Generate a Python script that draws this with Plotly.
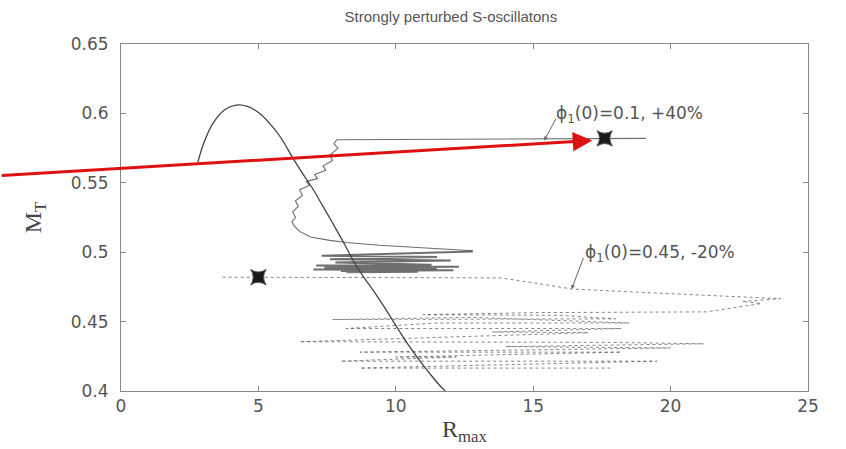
import plotly.graph_objects as go

# ---------------- data ----------------
# reference curve (parabola-like branch)
curve_x = [2.8, 3.0, 3.35, 3.8, 4.2, 4.6, 5.05, 5.4, 5.8, 6.25, 6.6, 7.0, 7.35, 7.7,
           8.1, 8.45, 8.8, 9.16, 9.53, 10.15, 10.5, 10.98, 11.3, 11.6, 11.8]
curve_y = [0.565, 0.578, 0.593, 0.603, 0.606, 0.605, 0.600, 0.593, 0.583, 0.568, 0.557,
           0.545, 0.533, 0.521, 0.507, 0.494, 0.483, 0.473, 0.462, 0.4425, 0.432, 0.419,
           0.411, 0.404, 0.400]

# +40% trajectory: horizontal jump, wiggle, then dense band
up_x = [19.1, 7.85, 7.75, 7.9, 7.6, 7.7, 7.35, 7.45, 7.05, 7.15, 6.75, 6.85, 6.5, 6.6,
        6.35, 6.45, 6.25, 6.35, 6.22, 6.3, 6.5, 6.9, 7.6, 8.2, 9.4, 11.0, 12.0, 12.8]
up_y = [0.582, 0.581, 0.578, 0.575, 0.570, 0.566, 0.562, 0.559, 0.556, 0.553, 0.551, 0.548,
        0.545, 0.541, 0.537, 0.533, 0.529, 0.525, 0.522, 0.519, 0.515, 0.511, 0.5085,
        0.507, 0.505, 0.503, 0.5015, 0.501]
band_x = [12.8, 7.3, 11.5, 7.6, 12.0, 7.8, 11.3, 7.1, 12.3, 7.4, 11.0, 7.0, 12.1, 8.0,
          10.8, 8.2, 11.5, 8.4, 10.2, 8.1, 10.5, 8.6, 9.8, 8.3]
band_y = [0.5005, 0.4975, 0.4965, 0.495, 0.494, 0.4925, 0.491, 0.4905, 0.4895, 0.489,
          0.488, 0.4875, 0.487, 0.4865, 0.486, 0.4855, 0.4885, 0.4895, 0.4875, 0.488,
          0.4868, 0.4872, 0.4862, 0.4858]

# -20% trajectory
low_x = [3.7, 9.0, 13.8, 15.0, 16.4, 19.0, 21.5, 22.8, 24.0, 22.6, 23.3, 21.3, 15.2, 11.0,
         16.0, 18.0, 7.7, 12.8, 13.5, 18.5, 11.5, 8.2, 18.2, 13.5, 17.0, 6.5, 18.0, 21.2,
         14.0, 20.0, 8.7, 18.2, 10.0, 12.2, 8.0, 19.5, 8.7, 17.8]
low_y = [0.482, 0.4818, 0.4815, 0.478, 0.4735, 0.471, 0.469, 0.4675, 0.4665, 0.4645, 0.463,
         0.457, 0.4565, 0.455, 0.4545, 0.452, 0.4515, 0.453, 0.4525, 0.449, 0.449, 0.445,
         0.445, 0.4425, 0.442, 0.4355, 0.435, 0.434, 0.432, 0.431, 0.428, 0.428, 0.4245,
         0.4245, 0.4215, 0.4215, 0.4165, 0.4165]

# initial (perturbed) configurations
star_x = [17.6, 5.0]
star_y = [0.582, 0.482]

# tick labels
x_ticks = [0, 5, 10, 15, 20, 25]
y_ticks = [0.4, 0.45, 0.5, 0.55, 0.6, 0.65]

# annotation texts
title_text = "Strongly perturbed S-oscillatons"
label_up = "ϕ<sub>1</sub>(0)=0.1, +40%"
label_low = "ϕ<sub>1</sub>(0)=0.45, -20%"

# ---------------- figure ----------------
fig = go.Figure()

fig.add_trace(go.Scatter(x=low_x, y=low_y, mode="lines",
                         line=dict(color="rgba(80,80,80,0.7)", width=1, dash="dot"),
                         showlegend=False, hoverinfo="skip"))
fig.add_trace(go.Scatter(x=band_x, y=band_y, mode="lines",
                         line=dict(color="rgba(15,15,15,0.6)", width=2),
                         showlegend=False, hoverinfo="skip"))
fig.add_trace(go.Scatter(x=up_x, y=up_y, mode="lines",
                         line=dict(color="rgba(60,60,60,0.75)", width=1.1),
                         showlegend=False, hoverinfo="skip"))
fig.add_trace(go.Scatter(x=curve_x, y=curve_y, mode="lines", line_shape="spline",
                         line=dict(color="#444", width=1.3),
                         showlegend=False, hoverinfo="skip"))
fig.add_trace(go.Scatter(x=star_x, y=star_y, mode="markers",
                         marker=dict(symbol="star-square", size=14, color="#1a1a1a",
                                     line=dict(color="#555", width=1)),
                         showlegend=False, hoverinfo="skip"))

gray = "#555"
ann_font = dict(family="DejaVu Sans", size=17, color=gray)

# label arrows
fig.add_annotation(x=15.4, y=0.5805, ax=15.85, ay=0.597, axref="x", ayref="y",
                   xref="x", yref="y", text="", showarrow=True, arrowhead=2,
                   arrowsize=0.8, arrowwidth=1, arrowcolor="#666")
fig.add_annotation(x=15.75, y=0.5995, xref="x", yref="y", text=label_up, showarrow=False,
                   xanchor="left", yanchor="middle", font=ann_font)
fig.add_annotation(x=16.4, y=0.4735, ax=16.85, ay=0.497, axref="x", ayref="y",
                   xref="x", yref="y", text="", showarrow=True, arrowhead=2,
                   arrowsize=0.8, arrowwidth=1, arrowcolor="#666")
fig.add_annotation(x=16.8, y=0.499, xref="x", yref="y", text=label_low, showarrow=False,
                   xanchor="left", yanchor="middle", font=ann_font)

# red overlay arrow
fig.add_annotation(x=17.15, y=0.5805, xref="x", yref="y", ax=-592, ay=35,
                   text="", showarrow=True, arrowhead=2, arrowsize=1.3,
                   arrowwidth=3, arrowcolor="#dd1111", standoff=0)

tick_font = dict(family="DejaVu Sans", size=17, color=gray)

fig.update_layout(
    width=846, height=449,
    margin=dict(l=121, r=38, t=44, b=58),
    plot_bgcolor="white", paper_bgcolor="white",
    title=dict(text=title_text, x=0.533, xanchor="center", y=0.962, yanchor="middle",
               font=dict(family="Liberation Sans, Arial", size=15, color=gray)),
    xaxis=dict(range=[0, 25], tickvals=x_ticks, ticks="inside", ticklen=5,
               tickcolor="#888", showline=True, linecolor="#888", linewidth=1,
               mirror="ticks", showgrid=False, zeroline=False,
               tickfont=tick_font,
               title=dict(text="R<sub>max</sub>", standoff=4,
                          font=dict(family="Liberation Serif, Times New Roman", size=24,
                                    color="#444"))),
    yaxis=dict(range=[0.4, 0.65], tickvals=y_ticks, ticks="inside", ticklen=5,
               tickcolor="#888", showline=True, linecolor="#888", linewidth=1,
               mirror="ticks", showgrid=False, zeroline=False,
               tickfont=tick_font,
               ticklabelstandoff=8,
               title=dict(text="M<sub>T</sub>", standoff=22,
                          font=dict(family="Liberation Serif, Times New Roman", size=24,
                                    color="#444"))),
)

fig.write_html("out.html")
